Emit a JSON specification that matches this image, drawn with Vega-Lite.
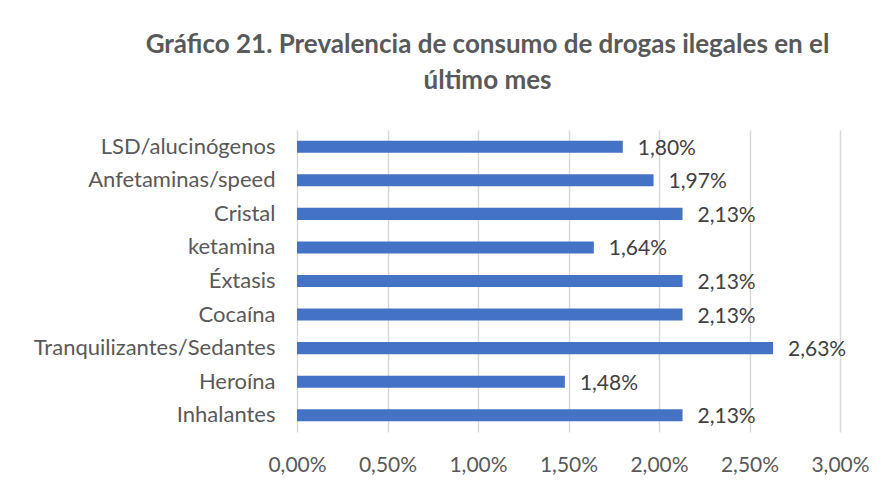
{
  "$schema": "https://vega.github.io/schema/vega-lite/v6.json",
  "autosize": "none",
  "width": 543,
  "height": 302,
  "padding": {"left": 297, "top": 130, "right": 46, "bottom": 57},
  "background": "white",
  "config": {
    "locale": {"number": {"decimal": ",", "thousands": ".", "grouping": [3], "currency": ["", " €"]}},
    "view": {"stroke": null},
    "font": "Lato"
  },
  "title": {
    "text": ["Gráfico 21. Prevalencia de consumo de drogas ilegales en el", "último mes"],
    "font": "Lato",
    "fontSize": 26,
    "fontWeight": "bold",
    "color": "#595959",
    "anchor": "middle",
    "dx": -81,
    "offset": 36,
    "lineHeight": 36
  },
  "data": {
    "values": [
      {"droga": "LSD/alucinógenos", "valor": 0.0180},
      {"droga": "Anfetaminas/speed", "valor": 0.0197},
      {"droga": "Cristal", "valor": 0.0213},
      {"droga": "ketamina", "valor": 0.0164},
      {"droga": "Éxtasis", "valor": 0.0213},
      {"droga": "Cocaína", "valor": 0.0213},
      {"droga": "Tranquilizantes/Sedantes", "valor": 0.0263},
      {"droga": "Heroína", "valor": 0.0148},
      {"droga": "Inhalantes", "valor": 0.0213}
    ]
  },
  "encoding": {
    "y": {
      "field": "droga", "type": "nominal", "sort": null,
      "scale": {"paddingInner": 0.64, "paddingOuter": 0.32},
      "axis": {"title": null, "ticks": false, "domain": false, "labelFontSize": 22, "labelColor": "#595959", "labelPadding": 22, "labelFont": "Lato", "labelLimit": 0}
    },
    "x": {
      "field": "valor", "type": "quantitative",
      "scale": {"domain": [0, 0.03], "nice": false},
      "axis": {"title": null, "format": ".2%", "values": [0, 0.005, 0.01, 0.015, 0.02, 0.025, 0.03], "ticks": false, "domain": false, "grid": true, "gridColor": "#d9d9d9", "gridWidth": 1.5, "labelFontSize": 21, "labelColor": "#595959", "labelPadding": 22, "labelFont": "Lato", "labelFlush": false, "labelOverlap": false}
    }
  },
  "layer": [
    {"mark": {"type": "bar", "color": "#4472C4"}},
    {"mark": {"type": "text", "align": "left", "dx": 15, "dy": 2, "fontSize": 21, "color": "#404040", "font": "Lato"},
     "encoding": {"text": {"field": "valor", "type": "quantitative", "format": ".2%"}}}
  ]
}
